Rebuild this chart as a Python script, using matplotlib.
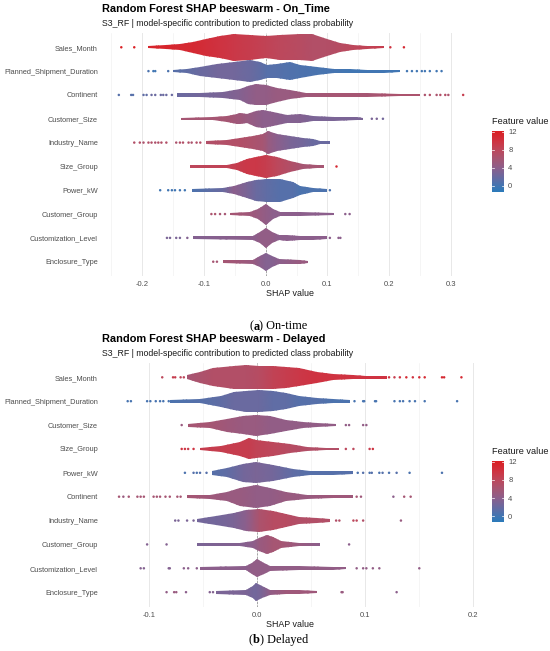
import numpy as np
import matplotlib
matplotlib.use("Agg")
import matplotlib.pyplot as plt
from matplotlib.colors import LinearSegmentedColormap, Normalize
from matplotlib.patches import Polygon

plt.rcParams['font.family'] = ['Liberation Sans', 'DejaVu Sans']

# ---------------- panel (a): On_Time ----------------
on_features = ["Sales_Month", "Planned_Shipment_Duration", "Continent", "Customer_Size",
               "Industry_Name", "Size_Group", "Power_kW", "Customer_Group",
               "Customization_Level", "Enclosure_Type"]
# swarm body outline: SHAP position, half thickness (row units), mean feature value
on_body_x = [
    [-0.190, -0.161, -0.139, -0.117, -0.096, -0.074, -0.052, -0.025, 0.0, 0.023, 0.056, 0.075, 0.099, 0.121, 0.142, 0.164, 0.191],
    [-0.150, -0.128, -0.106, -0.079, -0.052, -0.025, -0.009, 0.002, 0.018, 0.039, 0.056, 0.083, 0.110, 0.137, 0.164, 0.191, 0.218],
    [-0.144, -0.106, -0.069, -0.042, -0.028, -0.015, 0.0, 0.018, 0.039, 0.066, 0.110, 0.164, 0.218, 0.250],
    [-0.137, -0.085, -0.063, -0.047, -0.042, -0.031, -0.015, -0.004, 0.012, 0.034, 0.056, 0.077, 0.110, 0.148, 0.158],
    [-0.096, -0.063, -0.042, -0.020, -0.004, 0.004, 0.018, 0.039, 0.061, 0.077, 0.088, 0.104],
    [-0.123, -0.063, -0.047, -0.031, -0.015, 0.0, 0.018, 0.039, 0.061, 0.083, 0.094],
    [-0.120, -0.069, -0.052, -0.031, -0.015, 0.002, 0.023, 0.045, 0.056, 0.077, 0.099],
    [-0.058, -0.025, -0.012, 0.0, 0.012, 0.023, 0.056, 0.110],
    [-0.117, -0.020, -0.009, 0.0, 0.010, 0.021, 0.034, 0.056, 0.077, 0.099],
    [-0.069, -0.020, -0.009, 0.0, 0.010, 0.021, 0.056, 0.069],
]
on_body_hw = [
    [0.03, 0.06, 0.11, 0.21, 0.34, 0.45, 0.55, 0.50, 0.44, 0.50, 0.53, 0.55, 0.34, 0.17, 0.08, 0.05, 0.03],
    [0.03, 0.08, 0.17, 0.28, 0.35, 0.45, 0.35, 0.25, 0.28, 0.35, 0.25, 0.14, 0.08, 0.06, 0.04, 0.04, 0.03],
    [0.06, 0.08, 0.11, 0.21, 0.35, 0.42, 0.39, 0.28, 0.17, 0.08, 0.06, 0.05, 0.04, 0.03],
    [0.03, 0.04, 0.11, 0.20, 0.22, 0.17, 0.31, 0.36, 0.28, 0.14, 0.17, 0.08, 0.06, 0.04, 0.03],
    [0.04, 0.08, 0.17, 0.25, 0.35, 0.45, 0.35, 0.25, 0.17, 0.11, 0.06, 0.04],
    [0.03, 0.06, 0.14, 0.31, 0.39, 0.45, 0.38, 0.21, 0.08, 0.04, 0.03],
    [0.04, 0.06, 0.14, 0.31, 0.42, 0.46, 0.46, 0.31, 0.17, 0.07, 0.04],
    [0.04, 0.08, 0.20, 0.42, 0.20, 0.08, 0.06, 0.04],
    [0.04, 0.07, 0.21, 0.39, 0.21, 0.08, 0.10, 0.07, 0.07, 0.04],
    [0.04, 0.07, 0.21, 0.36, 0.22, 0.08, 0.06, 0.03],
]
on_body_fv = [
    [11.5, 11.5, 11, 11, 10.5, 10, 9.5, 9, 8.5, 8, 7.5, 7, 7, 7.5, 8, 8.5, 9],
    [1, 1.5, 2, 2.5, 2.5, 2, 1.5, 1, 1, 0.8, 0.6, 0.4, 0.2, 0, 0, 0, 0],
    [2, 2.5, 3, 3.5, 4, 4.5, 4.5, 5, 5, 5.5, 6, 6, 6.5, 6.5],
    [6, 6, 6, 5.5, 5.5, 5, 4.5, 4, 4, 3.5, 3.5, 3, 3, 3, 3],
    [7, 7, 7, 6.5, 6, 5, 4, 3, 2.5, 2, 2, 2],
    [8, 8.5, 9, 9.5, 9.5, 9, 8, 7, 6, 6, 6],
    [0.5, 2, 4, 3, 2, 1.5, 1, 1, 0.5, 0.5, 0.5],
    [6, 5.5, 5, 4.5, 4, 4, 4, 4],
    [3.5, 4, 4.5, 4.5, 4.5, 4, 4, 4, 4, 4],
    [6, 5, 4, 3.5, 3.5, 4, 5, 5],
]
# isolated points in the tails
on_dots_x = [
    [-0.234, -0.213, 0.202, 0.224],
    [-0.190, -0.182, -0.179, -0.158, 0.229, 0.237, 0.245, 0.253, 0.258, 0.266, 0.277, 0.285],
    [-0.238, -0.218, -0.215, -0.198, -0.193, -0.185, -0.179, -0.170, -0.166, -0.161, -0.152,
     0.258, 0.266, 0.277, 0.283, 0.291, 0.296, 0.320],
    [0.172, 0.180, 0.190],
    [-0.213, -0.204, -0.198, -0.190, -0.185, -0.179, -0.174, -0.169, -0.161, -0.145, -0.139,
     -0.134, -0.125, -0.120, -0.112, -0.106],
    [0.114],
    [-0.171, -0.158, -0.152, -0.147, -0.139, -0.131, 0.104],
    [-0.088, -0.082, -0.074, -0.066, 0.129, 0.136],
    [-0.160, -0.155, -0.145, -0.139, -0.127, 0.104, 0.118, 0.121],
    [-0.085, -0.079],
]
on_dots_fv = [
    [12, 12, 10, 11],
    [0.5, 0, 0, 0.5, 0, 0, 0, 0, 0, 0, 0, 0],
    [1, 1, 1, 1.5, 1.5, 2, 2, 2, 2, 2, 2, 6.5, 7, 6.5, 7, 7, 6.5, 9],
    [3, 3, 2.5],
    [7, 7, 6.5, 7, 7, 6.5, 7, 7, 7, 6.5, 7, 7, 7, 6.5, 7, 7],
    [11],
    [0, 0, 0, 0, 0, 0, 0.5],
    [6.5, 6.5, 6, 6, 4, 4],
    [3, 3, 3, 3, 3.5, 4, 4, 4],
    [6, 6],
]

# ---------------- panel (b): Delayed ----------------
del_features = ["Sales_Month", "Planned_Shipment_Duration", "Customer_Size", "Size_Group",
                "Power_kW", "Continent", "Industry_Name", "Customer_Group",
                "Customization_Level", "Enclosure_Type"]
del_body_x = [
    [-0.065, -0.053, -0.041, -0.022, -0.010, 0.002, 0.015, 0.027, 0.039, 0.055, 0.070, 0.089, 0.101, 0.120],
    [-0.081, -0.053, -0.034, -0.022, -0.010, 0.002, 0.015, 0.027, 0.039, 0.055, 0.070, 0.086],
    [-0.064, -0.044, -0.028, -0.013, -0.001, 0.012, 0.027, 0.042, 0.055, 0.073],
    [-0.053, -0.034, -0.016, -0.008, -0.001, 0.015, 0.030, 0.046, 0.064, 0.076],
    [-0.042, -0.028, -0.013, -0.001, 0.015, 0.033, 0.049, 0.070, 0.089],
    [-0.065, -0.044, -0.028, -0.016, -0.001, 0.012, 0.027, 0.046, 0.070, 0.089],
    [-0.056, -0.038, -0.022, -0.010, 0.002, 0.015, 0.027, 0.039, 0.055, 0.067],
    [-0.056, -0.016, -0.004, 0.002, 0.009, 0.015, 0.022, 0.039, 0.058],
    [-0.053, -0.010, -0.005, 0.0, 0.006, 0.012, 0.039, 0.070, 0.082],
    [-0.038, -0.010, -0.004, -0.001, 0.004, 0.012, 0.027, 0.039, 0.055],
]
del_body_hw = [
    [0.06, 0.21, 0.35, 0.45, 0.49, 0.46, 0.46, 0.42, 0.35, 0.21, 0.11, 0.06, 0.04, 0.03],
    [0.04, 0.07, 0.21, 0.35, 0.42, 0.45, 0.39, 0.31, 0.20, 0.10, 0.07, 0.04],
    [0.04, 0.11, 0.25, 0.35, 0.42, 0.35, 0.21, 0.10, 0.06, 0.03],
    [0.04, 0.11, 0.28, 0.42, 0.36, 0.28, 0.17, 0.08, 0.04, 0.03],
    [0.06, 0.17, 0.35, 0.42, 0.32, 0.14, 0.07, 0.06, 0.04],
    [0.04, 0.07, 0.18, 0.35, 0.45, 0.35, 0.17, 0.07, 0.04, 0.03],
    [0.06, 0.17, 0.31, 0.42, 0.46, 0.39, 0.25, 0.14, 0.07, 0.04],
    [0.04, 0.06, 0.11, 0.25, 0.39, 0.31, 0.14, 0.06, 0.03],
    [0.04, 0.07, 0.20, 0.35, 0.20, 0.08, 0.06, 0.04, 0.03],
    [0.04, 0.08, 0.22, 0.36, 0.22, 0.08, 0.07, 0.06, 0.03],
]
del_body_fv = [
    [6, 6.5, 7, 7, 7, 7.5, 8.5, 9, 9.5, 10, 10, 10, 10, 10],
    [0.5, 1, 1.5, 2, 2, 2, 1.5, 1.5, 1, 1, 0.5, 0.5],
    [6, 6, 5.5, 5, 5, 4.5, 4.5, 4.5, 4.5, 4.5],
    [9, 9, 9, 9, 8.5, 8, 7.5, 7, 7, 7],
    [1, 1.5, 2.5, 3, 2.5, 1.5, 1, 1, 1],
    [6, 5.5, 5, 5, 4.5, 4.5, 5, 5, 5.5, 5.5],
    [2.5, 2.5, 3, 4, 6.5, 7.5, 7.5, 7, 7, 7],
    [3, 3.5, 4, 5, 5.5, 6, 6, 5, 4],
    [4, 4, 4.5, 4.5, 4.5, 4.5, 4.5, 4.5, 4.5],
    [3, 3, 2.5, 2.5, 3, 4.5, 5.5, 5.5, 5.5],
]
del_dots_x = [
    [-0.088, -0.078, -0.076, -0.071, -0.068, 0.122, 0.127, 0.132, 0.138, 0.144, 0.150, 0.155, 0.171, 0.173, 0.189],
    [-0.120, -0.117, -0.102, -0.099, -0.094, -0.090, -0.087, -0.082, 0.090, 0.098, 0.099, 0.109, 0.110,
     0.127, 0.132, 0.135, 0.141, 0.146, 0.155, 0.185],
    [-0.070, 0.082, 0.085, 0.098, 0.101],
    [-0.070, -0.067, -0.064, -0.059, 0.082, 0.089, 0.104, 0.107],
    [-0.067, -0.059, -0.056, -0.053, -0.047, 0.093, 0.098, 0.104, 0.106, 0.113, 0.116, 0.122, 0.129, 0.141, 0.171],
    [-0.128, -0.124, -0.119, -0.111, -0.108, -0.105, -0.096, -0.093, -0.090, -0.085, -0.081, -0.074, -0.071,
     0.092, 0.096, 0.126, 0.136, 0.142],
    [-0.076, -0.073, -0.065, -0.059, 0.073, 0.076, 0.089, 0.092, 0.098, 0.133],
    [-0.102, -0.084, 0.085],
    [-0.108, -0.105, -0.082, -0.081, -0.068, -0.064, -0.056, 0.092, 0.098, 0.101, 0.107, 0.113, 0.150],
    [-0.084, -0.077, -0.075, -0.066, -0.044, -0.041, 0.078, 0.079, 0.129],
]
del_dots_fv = [
    [8, 9, 9, 8, 8, 10, 9, 10, 11, 10, 11, 11, 11, 11, 11],
    [0.3] * 20,
    [5, 4.5, 4.5, 4.5, 4.5],
    [10, 10, 9, 10, 8, 8, 9, 10],
    [0.5, 1, 0.5, 1, 1, 0.5, 1, 0.5, 1, 0.5, 1, 0.5, 1, 0.5, 0.5],
    [6, 5, 6, 6, 6, 6, 6, 6, 6, 6, 6, 6, 6, 6, 5.5, 4, 6, 6],
    [3, 3, 3, 3, 7, 7, 8, 8, 7, 5],
    [3.5, 3.5, 4],
    [3.5, 3.5, 3.5, 3.5, 4, 4, 4, 4.5, 4.5, 4.5, 4.5, 4.5, 4.5],
    [4.5, 5, 5, 4, 3.5, 3.5, 5, 5, 4],
]

fv_min, fv_max = -1.3, 12.2
cbar_ticks = [0, 4, 8, 12]

# colour ramp (blue -> slate purple -> red)
stops = [(-1.3, "#2B7BBA"), (0, "#4276B3"), (2, "#6A6AA0"), (4, "#8C5F8C"),
         (6, "#A65673"), (8, "#BD485C"), (10, "#CF3341"), (12.2, "#DB1E22")]
cmap = LinearSegmentedColormap.from_list(
    "fv", [((v - fv_min) / (fv_max - fv_min), c) for v, c in stops])
norm = Normalize(fv_min, fv_max)

W, H = 550, 651
fig = plt.figure(figsize=(W / 100, H / 100), dpi=100)


def px_axes(left, top, right, bottom):
    return fig.add_axes([left / W, 1 - bottom / H, (right - left) / W, (bottom - top) / H])


def draw_panel(ax, features, body_x, body_hw, body_fv, dots_x, dots_fv, xlim, major, minor):
    for i in range(len(features)):
        bx = np.array(body_x[i])
        hw = np.array(body_hw[i]) + 0.02   # allow for the radius of the outer points
        fv = np.array(body_fv[i])
        verts = np.concatenate([np.column_stack([bx, i - hw]),
                                np.column_stack([bx[::-1], i + hw[::-1]])])
        poly = Polygon(verts, closed=True, fc='none', ec='none')
        ax.add_patch(poly)
        X = np.vstack([bx, bx])
        Y = np.vstack([np.full_like(bx, i - 0.7), np.full_like(bx, i + 0.7)])
        mesh = ax.pcolormesh(X, Y, np.vstack([fv, fv]), shading='gouraud',
                             cmap=cmap, norm=norm, zorder=3)
        mesh.set_clip_path(poly)
        ax.scatter(dots_x[i], [i] * len(dots_x[i]), c=dots_fv[i], cmap=cmap, norm=norm,
                   s=3.2, linewidths=0, zorder=4)
    ax.axvline(0, color='#8A8A8A', lw=0.5, ls=(0, (3, 2)), zorder=2)
    ax.set_xlim(*xlim)
    ax.set_ylim(len(features) - 0.4, -0.6)
    ax.set_yticks(range(len(features)))
    ax.set_yticklabels(features)
    ax.set_xticks(major)
    ax.set_xticklabels([f"{v:.1f}".replace("-0.0", "0.0") for v in major])
    ax.set_xticks(minor, minor=True)
    ax.grid(which='major', axis='x', color='#E8E8E8', lw=0.7, zorder=0)
    ax.grid(which='minor', axis='x', color='#F0F0F0', lw=0.45, zorder=0)
    ax.set_axisbelow(True)
    for s in ax.spines.values():
        s.set_visible(False)
    ax.tick_params(which='both', length=0, labelsize=5.5, labelcolor='#4D4D4D')
    ax.tick_params(axis='y', pad=2.2, labelsize=5.35)
    ax.tick_params(axis='x', pad=3.8)
    ax.set_xlabel("SHAP value", fontsize=6.4, color='#1A1A1A', labelpad=0.8)


def legend(top):
    fig.text(492 / W, 1 - (top - 9) / H, "Feature value", fontsize=6.6, color='#1A1A1A',
             va='center', ha='left')
    cax = px_axes(492, top, 504, top + 61)
    grad = np.linspace(fv_min, fv_max, 256)[:, None]
    cax.imshow(grad, cmap=cmap, norm=norm, origin='lower', aspect='auto',
               extent=[0, 1, fv_min, fv_max])
    for v in cbar_ticks:
        cax.plot([0, 0.2], [v, v], color='white', lw=0.5)
        cax.plot([0.8, 1], [v, v], color='white', lw=0.5)
    cax.set_xlim(0, 1)
    cax.set_ylim(fv_min, fv_max)
    cax.set_xticks([])
    cax.yaxis.tick_right()
    cax.set_yticks(cbar_ticks)
    cax.set_yticklabels([str(v) for v in cbar_ticks])
    cax.tick_params(length=0, pad=3, labelsize=5.5, labelcolor='#4D4D4D')
    for s in cax.spines.values():
        s.set_visible(False)


def caption(y, letter, rest):
    r = fig.canvas.get_renderer()
    parts = [("(", 'normal'), (letter, 'bold'), (") " + rest, 'normal')]
    texts = [fig.text(0, 1 - y / H, p, fontsize=8.8, family='Liberation Serif',
                      weight=w, va='center', ha='left') for p, w in parts]
    widths = [t.get_window_extent(r).width for t in texts]
    x = 278.5 - sum(widths) / 2
    for t, w in zip(texts, widths):
        t.set_x(x / W)
        x += w


# panel (a)
ax1 = px_axes(101, 33, 480, 276)
draw_panel(ax1, on_features, on_body_x, on_body_hw, on_body_fv, on_dots_x, on_dots_fv,
           (-0.2669, 0.3473), [-0.2, -0.1, 0.0, 0.1, 0.2, 0.3],
           [-0.25, -0.15, -0.05, 0.05, 0.15, 0.25])
fig.text(102 / W, 1 - 9 / H, "Random Forest SHAP beeswarm - On_Time", fontsize=7.9,
         weight='bold', va='center', ha='left')
fig.text(102 / W, 1 - 23.5 / H,
         "S3_RF | model-specific contribution to predicted class probability",
         fontsize=6.3, color='#1A1A1A', va='center', ha='left')
legend(130.7)

# panel (b)
ax2 = px_axes(101, 363, 480, 606.5)
draw_panel(ax2, del_features, del_body_x, del_body_hw, del_body_fv, del_dots_x, del_dots_fv,
           (-0.1447, 0.2062), [-0.1, 0.0, 0.1, 0.2], [-0.05, 0.05, 0.15])
fig.text(102 / W, 1 - 339.3 / H, "Random Forest SHAP beeswarm - Delayed", fontsize=7.9,
         weight='bold', va='center', ha='left')
fig.text(102 / W, 1 - 353.5 / H,
         "S3_RF | model-specific contribution to predicted class probability",
         fontsize=6.3, color='#1A1A1A', va='center', ha='left')
legend(461)

caption(326.7, "a", "On-time")
caption(640, "b", "Delayed")

fig.savefig("out.png", dpi=100, facecolor='white')
